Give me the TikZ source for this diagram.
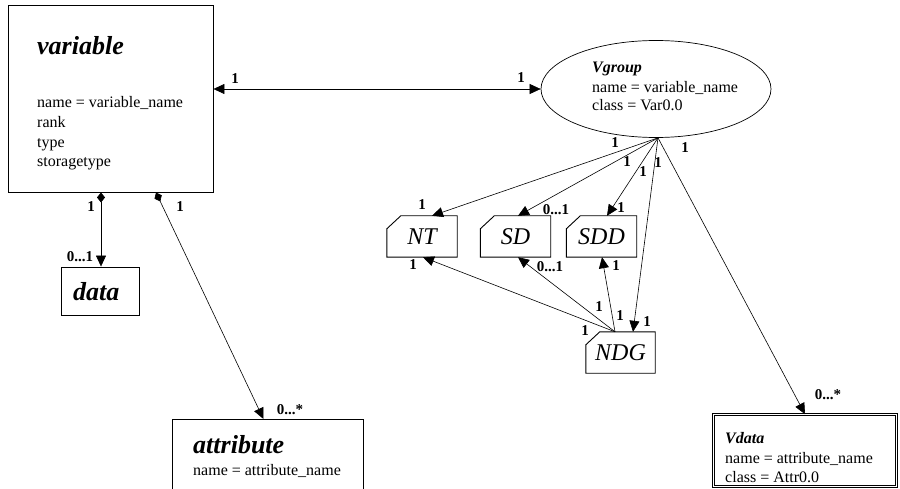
\documentclass[tikz,border=0pt]{standalone}
\usepackage{fontspec}
\setmainfont{Liberation Serif}
\usetikzlibrary{arrows.meta,shapes.geometric}
\tikzset{
  box/.style={draw=black,line width=0.9pt,inner sep=0pt},
  lbl/.style={font=\fontsize{15}{15}\selectfont\bfseries,inner sep=0pt},
  txt/.style={font=\fontsize{16}{16}\selectfont,inner sep=0pt,anchor=base west},
  ttl/.style={font=\fontsize{26}{26}\selectfont\bfseries\itshape,inner sep=0pt,anchor=base west},
  small ttl/.style={font=\fontsize{16}{16}\selectfont\bfseries\itshape,inner sep=0pt,anchor=base west},
  chamf/.style={draw=none,inner sep=0pt,minimum width=70pt,minimum height=41pt,font=\fontsize{24}{24}\selectfont\itshape},
  conn/.style={line width=0.6pt,-{Triangle[length=11pt,width=10pt]}},
  dconn/.style={line width=0.6pt,{Triangle[length=11pt,width=10pt]}-{Triangle[length=11pt,width=10pt]}},
  agg/.style={line width=0.6pt,{Diamond[length=10pt,width=8pt]}-{Triangle[length=11pt,width=10pt]}},
}
\newcommand{\chamfdraw}[1]{\draw[line width=0.9pt] (#1.south west) -- ([yshift=-13pt]#1.north west) -- ([xshift=14pt]#1.north west) -- (#1.north east) -- (#1.south east) -- cycle;}
\begin{document}
\begin{tikzpicture}[x=1pt,y=-1pt]
\useasboundingbox (0,0) rectangle (900,489);
% variable
\node[box,minimum width=205pt,minimum height=187pt] (var) at (110.5,98.5) {};
\node[ttl] (vart) at (37,55) {variable};
\node[txt] (v1) at (37,108) {name = variable\_name};
\node[txt] (v2) at (37,128) {rank};
\node[txt] (v3) at (37,148) {type};
\node[txt] (v4) at (37,167) {storagetype};
% data
\node[box,minimum width=78pt,minimum height=48pt] (data) at (100,291) {};
\node[ttl] (datat) at (73,300) {data};
% attribute
\node[box,minimum width=191pt,minimum height=90pt,anchor=north west] (attr) at (172,419) {};
\node[ttl] (attrt) at (193,453) {attribute};
\node[txt] (a1) at (193,475) {name = attribute\_name};
% Vgroup ellipse
\node[ellipse,draw=black,line width=0.7pt,minimum width=230pt,minimum height=97pt,inner sep=0pt] (vg) at (656,89) {};
\node[small ttl] (vgt) at (592,73) {Vgroup};
\node[txt] (g1) at (592,93) {name = variable\_name};
\node[txt] (g2) at (592,111) {class = Var0.0};
% Vdata
\node[draw=black,double,double distance=1.6pt,line width=0.6pt,minimum width=183pt,minimum height=72pt,inner sep=0pt] (vd) at (805,450.5) {};
\node[small ttl] (vdt) at (725,443) {Vdata};
\node[txt] (d1) at (725,463) {name = attribute\_name};
\node[txt] (d2) at (725,482) {class = Attr0.0};
% chamfered boxes
\node[chamf] (NT) at (422,236.5) {NT};
\node[chamf] (SD) at (515.5,236.5) {SD};
\node[chamf] (SDD) at (601.5,236.5) {SDD};
\node[chamf,minimum width=69pt] (NDG) at (620.5,352.5) {NDG};
\chamfdraw{NT}
\chamfdraw{SD}
\chamfdraw{SDD}
\chamfdraw{NDG}
% connection points
\coordinate (vgb) at ([xshift=2pt]vg.south);
\coordinate (ndgt) at ([xshift=-5.5pt]NDG.north);
% connectors
\draw[dconn] (var.east |- vg.west) -- (vg.west);
\draw[agg] ([xshift=-9.5pt]var.south) -- ([xshift=1pt]data.north);
\draw[agg] ([xshift=45.5pt]var.south) -- ([xshift=-4.5pt]attr.north);
\draw[conn] (vgb) -- ([xshift=10pt]NT.north);
\draw[conn] (vgb) -- ([xshift=2.5pt]SD.north);
\draw[conn] (vgb) -- ([xshift=5.5pt]SDD.north);
\draw[conn] (vgb) -- ([xshift=12.5pt]NDG.north);
\draw[conn] (vgb) -- ([xshift=0pt]vd.north);
\draw[conn] (ndgt) -- ([xshift=1pt]NT.south);
\draw[conn] (ndgt) -- ([xshift=2.5pt]SD.south);
\draw[conn] (ndgt) -- ([xshift=0.5pt]SDD.south);
% labels
\node[lbl] (l1) at (235,79) {1};
\node[lbl] (l2) at (521,78) {1};
\node[lbl] (l3) at (91,207) {1};
\node[lbl] (l4) at (80,257) {0...1};
\node[lbl] (l5) at (180,207) {1};
\node[lbl] (l6) at (290,410) {0...*};
\node[lbl] (l7) at (615,143) {1};
\node[lbl] (l8) at (627,162) {1};
\node[lbl] (l9) at (643,172) {1};
\node[lbl] (l10) at (658,163) {1};
\node[lbl] (l11) at (685,148) {1};
\node[lbl] (l12) at (422,205) {1};
\node[lbl] (l13) at (556,210) {0...1};
\node[lbl] (l14) at (621,208) {1};
\node[lbl] (l15) at (413,265) {1};
\node[lbl] (l16) at (550,267) {0...1};
\node[lbl] (l17) at (616,266) {1};
\node[lbl] (l18) at (599,307) {1};
\node[lbl] (l19) at (620,316) {1};
\node[lbl] (l20) at (647,322) {1};
\node[lbl] (l21) at (585,331) {1};
\node[lbl] (l22) at (828,395) {0...*};
\end{tikzpicture}
\end{document}
